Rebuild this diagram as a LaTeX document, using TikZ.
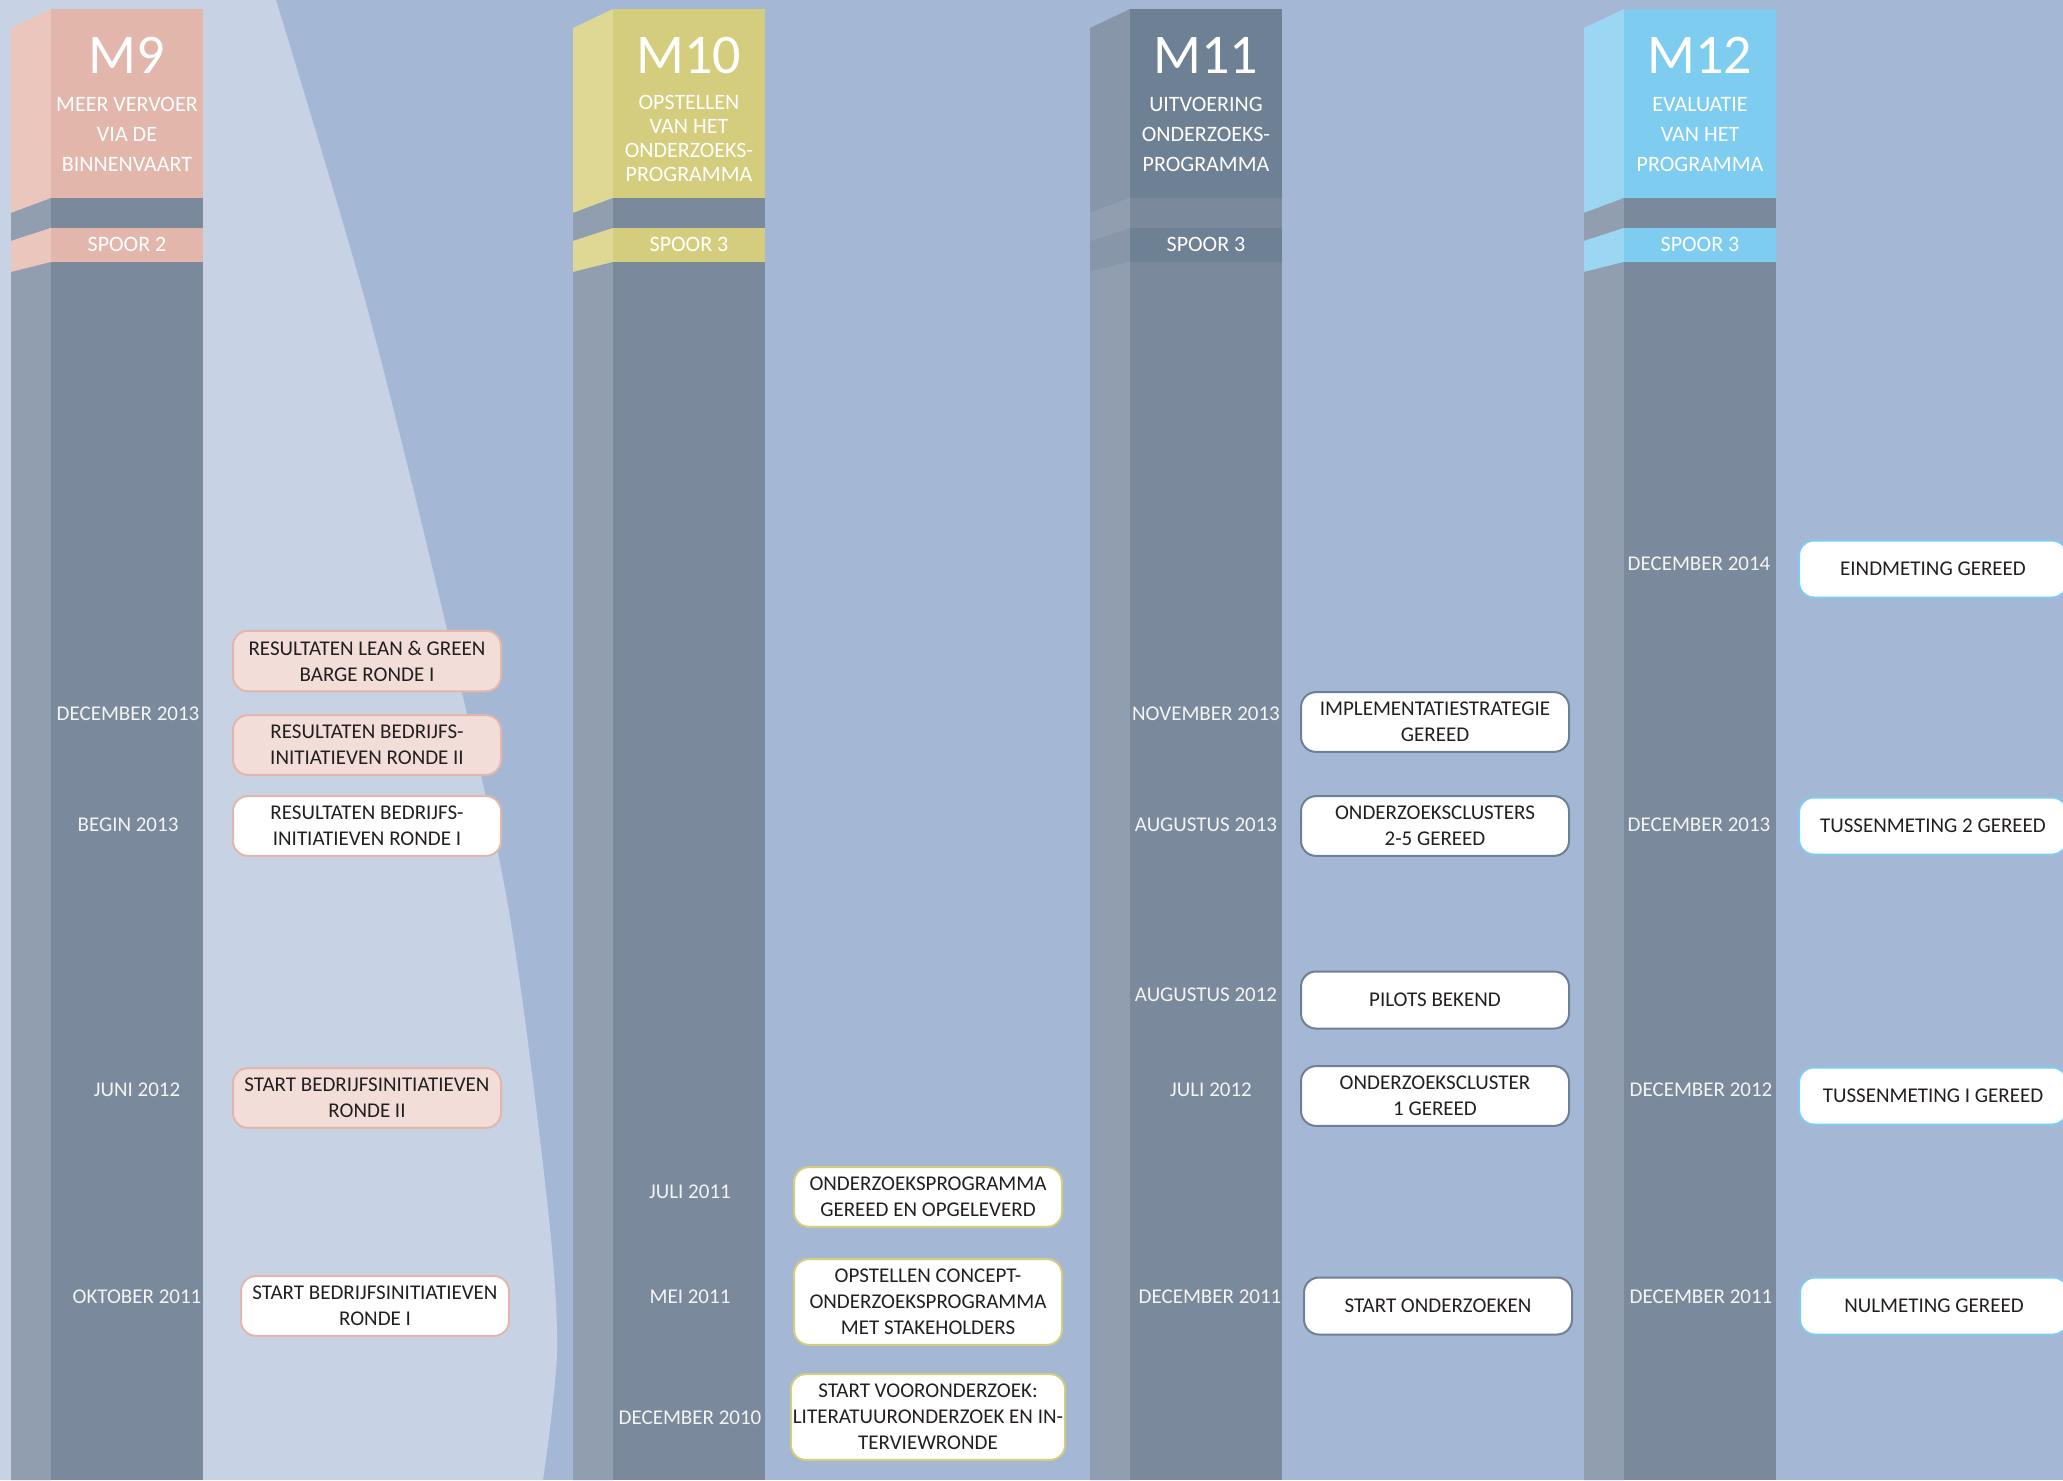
\documentclass[tikz,border=0pt]{standalone}
\usepackage{fontspec}
\setmainfont{Carlito}

\definecolor{achter}{HTML}{A4B7D5}
\definecolor{licht}{HTML}{C7D3E5}
\definecolor{paalvoor}{HTML}{7A899C}
\definecolor{paalzij}{HTML}{919EB0}
\definecolor{mnegenvoor}{HTML}{E2B6AB}
\definecolor{mnegenzij}{HTML}{EAC6BC}
\definecolor{mnegenvak}{HTML}{F2DDD8}
\definecolor{mtienvoor}{HTML}{D5CD7E}
\definecolor{mtienzij}{HTML}{DFD895}
\definecolor{melfvoor}{HTML}{6E8094}
\definecolor{melfzij}{HTML}{8796A9}
\definecolor{mtwaalfvoor}{HTML}{7ECDF0}
\definecolor{mtwaalfzij}{HTML}{9BD6F2}
\definecolor{tekst}{HTML}{231F20}
\definecolor{datumkleur}{HTML}{F4F4F4}

\begin{document}
\begin{tikzpicture}[x=1pt,y=-1pt,
  titel/.style={text=white,font=\fontsize{56}{56}\selectfont,anchor=base,inner sep=0},
  sub/.style={text=white,font=\fontsize{22}{30}\selectfont,align=center,anchor=north,inner sep=0},
  spoor/.style={text=white,font=\fontsize{22}{22}\selectfont,anchor=base,inner sep=0},
  datum/.style={text=datumkleur,font=\fontsize{21}{21}\selectfont,anchor=base,inner sep=0},
  mijlpaal/.style={draw,line width=2pt,rounded corners=15pt,fill=white,text=tekst,font=\fontsize{21}{26}\selectfont,align=center,minimum width=268pt,minimum height=57pt,inner xsep=2pt,inner ysep=10pt}]
\clip (0,0) rectangle (2063,1480);
\fill[achter] (0,0) rectangle (2063,1480);
\fill[licht] (0,0) -- plot[smooth] coordinates {(276,0) (365,300) (440,600) (507,900) (547,1200) (557,1350) (543,1480)} -- (0,1480) -- cycle;

\foreach \n/\f/\cf/\cs/\s in {9/51/mnegenvoor/mnegenzij/2,10/613/mtienvoor/mtienzij/3,11/1130/melfvoor/melfzij/3,12/1624/mtwaalfvoor/mtwaalfzij/3}{
	\fill[\cs] (\f-40,28) -- (\f,9) -- (\f,198) -- (\f-40,213) -- cycle;
	\fill[paalzij] (\f-40,213) -- (\f,198) -- (\f,228) -- (\f-40,241) -- cycle;
	\fill[\cs] (\f-40,241) -- (\f,228) -- (\f,262) -- (\f-40,272) -- cycle;
	\fill[paalzij] (\f-40,272) -- (\f,262) -- (\f,1480) -- (\f-40,1480) -- cycle;
	\fill[\cf] (\f,9) rectangle (\f+152,198);
	\fill[paalvoor] (\f,198) rectangle (\f+152,228);
	\fill[\cf] (\f,228) rectangle (\f+152,262);
	\fill[paalvoor] (\f,262) rectangle (\f+152,1480);
	\node[titel] (m\n) at (\f+76,74) {M\n};
	\node[spoor] (s\n) at (\f+76,251) {SPOOR \s};
}

\node[sub] (t9) at (127,97) {MEER VERVOER\\VIA DE\\BINNENVAART};
\node[sub,font=\fontsize{22}{24}\selectfont] (t10) at (689,95) {OPSTELLEN\\VAN HET\\ONDERZOEKS-\\PROGRAMMA};
\node[sub] (t11) at (1206,97) {UITVOERING\\ONDERZOEKS-\\PROGRAMMA};
\node[sub] (t12) at (1700,97) {EVALUATIE\\VAN HET\\PROGRAMMA};

\foreach \i/\x/\y/\t in {9a/128/720/DECEMBER 2013,9b/128/831/BEGIN 2013,9c/137/1096/JUNI 2012,9d/137/1303/OKTOBER 2011,
	10a/690/1198/JULI 2011,10b/690/1303/MEI 2011,10c/690/1424/DECEMBER 2010,
	11a/1206/720/NOVEMBER 2013,11b/1206/831/AUGUSTUS 2013,11c/1206/1001/AUGUSTUS 2012,11d/1211/1096/JULI 2012,11e/1210/1303/DECEMBER 2011,
	12a/1699/570/DECEMBER 2014,12b/1699/831/DECEMBER 2013,12c/1701/1096/DECEMBER 2012,12d/1701/1303/DECEMBER 2011}
	\node[datum] (d\i) at (\x,\y) {\t};

\foreach \i/\x/\y/\v/\t in {a/367/661/mnegenvak/RESULTATEN LEAN \& GREEN\\BARGE RONDE I,b/367/745/mnegenvak/RESULTATEN BEDRIJFS-\\INITIATIEVEN RONDE II,c/367/826/white/RESULTATEN BEDRIJFS-\\INITIATIEVEN RONDE I,d/367/1098/mnegenvak/START BEDRIJFSINITIATIEVEN\\RONDE II,e/375/1306/white/START BEDRIJFSINITIATIEVEN\\RONDE I}
	\node[mijlpaal,draw=mnegenvoor,fill=\v] (b9\i) at (\x,\y) {\t};

\foreach \i/\y/\t in {a/1197/ONDERZOEKSPROGRAMMA\\GEREED EN OPGELEVERD,b/1302/OPSTELLEN CONCEPT-\\ONDERZOEKSPROGRAMMA\\MET STAKEHOLDERS,c/1417/START VOORONDERZOEK:\\LITERATUURONDERZOEK EN IN-\\TERVIEWRONDE}
	\node[mijlpaal,draw=mtienvoor] (b10\i) at (928,\y) {\t};

\foreach \i/\x/\y/\t in {a/1435/722/IMPLEMENTATIESTRATEGIE\\GEREED,b/1435/826/ONDERZOEKSCLUSTERS\\2-5 GEREED,c/1435/1000/PILOTS BEKEND,d/1435/1096/ONDERZOEKSCLUSTER\\1 GEREED,e/1438/1306/START ONDERZOEKEN}
	\node[mijlpaal,draw=melfvoor] (b11\i) at (\x,\y) {\t};

\foreach \i/\x/\y/\t in {a/1933/569/EINDMETING GEREED,b/1933/826/TUSSENMETING 2 GEREED,c/1933/1096/TUSSENMETING I GEREED,d/1934/1306/NULMETING GEREED}
	\node[mijlpaal,draw=mtwaalfvoor] (b12\i) at (\x,\y) {\t};

\end{tikzpicture}
\end{document}
